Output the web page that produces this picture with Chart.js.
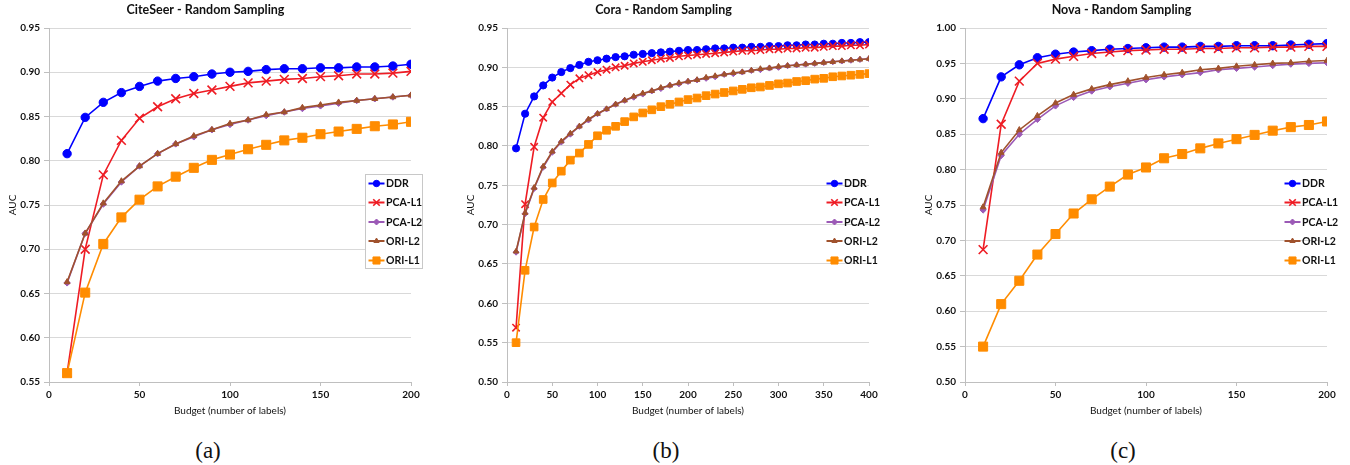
<!DOCTYPE html>
<html><head><meta charset="utf-8">
<script src="https://cdn.jsdelivr.net/npm/chart.js@4.4.1/dist/chart.umd.min.js"></script>
<style>
html,body{margin:0;padding:0;background:#fff;width:1350px;height:465px;overflow:hidden;}
.panel{position:absolute;top:0;width:424px;height:417px;}
.cap{position:absolute;top:436px;width:60px;text-align:center;font-family:"Liberation Serif","DejaVu Serif",serif;font-size:23px;line-height:30px;color:#111;}
</style></head><body>
<div class="panel" style="left:0px"><canvas id="cA"></canvas></div>
<div class="panel" style="left:458px"><canvas id="cB"></canvas></div>
<div class="panel" style="left:916px"><canvas id="cC"></canvas></div>
<div class="cap" style="left:178px">(a)</div>
<div class="cap" style="left:636px">(b)</div>
<div class="cap" style="left:1093px">(c)</div>
<script>
// ---- categories / ticks ----
const seriesNames = ['DDR', 'PCA-L1', 'PCA-L2', 'ORI-L2', 'ORI-L1'];
const budget200 = [10,20,30,40,50,60,70,80,90,100,110,120,130,140,150,160,170,180,190,200];
const budget400 = [10,20,30,40,50,60,70,80,90,100,110,120,130,140,150,160,170,180,190,200,
                   210,220,230,240,250,260,270,280,290,300,310,320,330,340,350,360,370,380,390,400];
const xTicks200 = [0,50,100,150,200];
const xTicks400 = [0,50,100,150,200,250,300,350,400];
const yTicksA = [0.55,0.60,0.65,0.70,0.75,0.80,0.85,0.90,0.95];
const yTicksB = [0.50,0.55,0.60,0.65,0.70,0.75,0.80,0.85,0.90,0.95];
const yTicksC = [0.50,0.55,0.60,0.65,0.70,0.75,0.80,0.85,0.90,0.95,1.00];

// ---- CiteSeer ----
const citeDDR   = [0.808,0.849,0.866,0.877,0.884,0.890,0.893,0.895,0.898,0.900,0.901,0.903,0.904,0.904,0.905,0.905,0.906,0.906,0.907,0.909];
const citePCAL1 = [0.560,0.700,0.784,0.823,0.848,0.861,0.870,0.876,0.880,0.884,0.888,0.890,0.892,0.893,0.895,0.896,0.898,0.898,0.899,0.901];
const citePCAL2 = [0.662,0.718,0.751,0.776,0.794,0.808,0.819,0.827,0.835,0.841,0.846,0.851,0.855,0.859,0.862,0.865,0.868,0.870,0.872,0.874];
const citeORIL2 = [0.663,0.718,0.752,0.777,0.794,0.808,0.819,0.828,0.835,0.842,0.846,0.852,0.855,0.860,0.863,0.866,0.868,0.870,0.872,0.874];
const citeORIL1 = [0.560,0.651,0.706,0.736,0.756,0.771,0.782,0.792,0.801,0.807,0.813,0.818,0.823,0.826,0.830,0.833,0.836,0.839,0.841,0.844];

// ---- Cora ----
const coraDDR   = [0.797,0.841,0.863,0.877,0.887,0.894,0.899,0.903,0.907,0.909,0.911,0.913,0.914,0.916,0.917,0.918,0.919,0.920,0.921,0.922,
                   0.922,0.923,0.924,0.924,0.925,0.925,0.926,0.926,0.927,0.927,0.928,0.928,0.929,0.929,0.930,0.930,0.931,0.931,0.932,0.932];
const coraPCAL1 = [0.569,0.726,0.799,0.836,0.856,0.867,0.878,0.886,0.890,0.894,0.897,0.900,0.902,0.905,0.907,0.909,0.911,0.912,0.914,0.915,
                   0.916,0.917,0.918,0.919,0.920,0.921,0.921,0.922,0.923,0.923,0.924,0.924,0.925,0.925,0.926,0.927,0.927,0.928,0.928,0.929];
const coraPCAL2 = [0.665,0.714,0.746,0.773,0.792,0.805,0.815,0.825,0.833,0.841,0.847,0.853,0.858,0.862,0.866,0.870,0.873,0.877,0.879,0.882,
                   0.884,0.886,0.888,0.891,0.892,0.894,0.896,0.897,0.899,0.900,0.902,0.903,0.904,0.905,0.906,0.907,0.908,0.909,0.910,0.911];
const coraORIL2 = [0.666,0.715,0.747,0.774,0.793,0.806,0.816,0.825,0.834,0.841,0.847,0.853,0.858,0.863,0.867,0.870,0.874,0.877,0.880,0.882,
                   0.884,0.887,0.889,0.891,0.893,0.894,0.896,0.898,0.899,0.901,0.902,0.903,0.904,0.905,0.906,0.907,0.908,0.909,0.910,0.911];
const coraORIL1 = [0.550,0.642,0.697,0.732,0.753,0.768,0.782,0.791,0.802,0.813,0.820,0.825,0.831,0.837,0.842,0.846,0.850,0.853,0.856,0.859,
                   0.861,0.864,0.866,0.868,0.870,0.872,0.874,0.875,0.877,0.879,0.880,0.882,0.883,0.885,0.886,0.888,0.889,0.890,0.891,0.892];

// ---- Nova ----
const novaDDR   = [0.872,0.931,0.948,0.958,0.963,0.966,0.968,0.970,0.971,0.972,0.973,0.973,0.974,0.974,0.975,0.975,0.975,0.976,0.977,0.978];
const novaPCAL1 = [0.687,0.864,0.925,0.950,0.956,0.960,0.964,0.966,0.968,0.969,0.970,0.970,0.971,0.971,0.972,0.972,0.973,0.973,0.974,0.974];
const novaPCAL2 = [0.743,0.820,0.850,0.871,0.890,0.902,0.911,0.917,0.922,0.927,0.931,0.934,0.937,0.941,0.943,0.945,0.947,0.949,0.950,0.951];
const novaORIL2 = [0.747,0.824,0.856,0.876,0.894,0.906,0.914,0.920,0.925,0.930,0.934,0.937,0.941,0.943,0.946,0.948,0.950,0.951,0.953,0.954];
const novaORIL1 = [0.550,0.610,0.643,0.680,0.709,0.738,0.758,0.776,0.793,0.803,0.816,0.822,0.830,0.837,0.843,0.849,0.855,0.860,0.863,0.868];

// ---- styles (kept apart from data) ----
const FONT = 'Lato, "Liberation Sans", sans-serif';
const styles = [
  {color:'#0000ff', point:'circle',   r:[4.2,3.6], lr:3.2, lw:1.6},
  {color:'#ee1c24', point:'crossRot', r:[6.2,5.2], lr:4.6, lw:1.6},
  {color:'#9b59b6', point:'rectRot',  r:[3.2,3.0], lr:3.0, lw:1.6},
  {color:'#a0522d', point:'triangle', r:[3.4,3.2], lr:3.0, lw:1.6},
  {color:'#ff8c00', point:'rect',     r:[6.4,5.4], lr:5.0, lw:1.6}
];

const legendPlugin = {
  id: 'inLegend',
  afterDraw(chart, args, opts) {
    const ctx = chart.ctx;
    ctx.save();
    if (opts.box) {
      ctx.fillStyle = '#ffffff';
      ctx.strokeStyle = '#c8c8c8';
      ctx.lineWidth = 1;
      ctx.fillRect(365.5, 174.5, 57, 94);
      ctx.strokeRect(365.5, 174.5, 57, 94);
    }
    const rows = [183.5, 202.5, 222, 241, 260.5];
    chart.data.datasets.forEach((ds, i) => {
      const st = styles[i];
      const y = rows[i], x0 = 368.5, x1 = 384.5, cx = (x0 + x1) / 2;
      ctx.strokeStyle = st.color; ctx.lineWidth = 2;
      ctx.beginPath(); ctx.moveTo(x0, y); ctx.lineTo(x1, y); ctx.stroke();
      ctx.fillStyle = st.color; ctx.strokeStyle = st.color; ctx.lineWidth = st.point === 'crossRot' ? 1.6 : 1;
      Chart.helpers.drawPoint(ctx, {pointStyle: st.point, radius: st.lr, rotation: 0, borderWidth: 1}, cx, y);
      ctx.fillStyle = '#111';
      ctx.font = 'bold 10.5px ' + FONT;
      ctx.textBaseline = 'middle'; ctx.textAlign = 'left';
      ctx.fillText(ds.label, 386, y + 0.5);
    });
    ctx.restore();
  }
};

function makeChart(id, title, xs, seriesData, xTicks, yTicks, small, box) {
  const datasets = seriesData.map((vals, i) => {
    const st = styles[i];
    return {
      label: seriesNames[i],
      data: vals.map((v, k) => ({x: xs[k], y: v})),
      borderColor: st.color, backgroundColor: st.color,
      pointBackgroundColor: st.color, pointBorderColor: st.color,
      pointStyle: st.point, pointRadius: st.r[small ? 1 : 0],
      pointBorderWidth: st.point === 'crossRot' ? 1.6 : 1,
      borderWidth: st.lw, tension: 0, order: 5 - i
    };
  });
  const yMin = yTicks[0], yMax = yTicks[yTicks.length - 1];
  return new Chart(document.getElementById(id), {
    type: 'line',
    data: {datasets},
    plugins: [legendPlugin],
    options: {
      responsive: true, maintainAspectRatio: false, animation: false,
      layout: {padding: {left: 0, right: 13, top: 0, bottom: 0}},
      plugins: {
        legend: {display: false}, tooltip: {enabled: false},
        title: {display: true, text: title, color: '#111',
                font: {family: FONT, size: 12.5, weight: 'bold'}, padding: {top: 2, bottom: 11}},
        inLegend: {box}
      },
      scales: {
        x: {
          type: 'linear', min: xTicks[0], max: xTicks[xTicks.length - 1],
          afterBuildTicks: s => { s.ticks = xTicks.map(v => ({value: v})); },
          afterFit: s => { s.height = 35; },
          grid: {drawOnChartArea: false, color: '#bfbfbf', tickColor: '#bfbfbf', tickLength: 4},
          border: {color: '#bfbfbf'},
          ticks: {color: '#111', font: {family: FONT, size: 10, weight: 'bold'}, padding: 3, maxRotation: 0},
          title: {display: true, text: 'Budget (number of labels)', color: '#111',
                  font: {family: FONT, size: 10}, padding: {top: 0, bottom: 0}}
        },
        y: {
          min: yMin, max: yMax,
          afterBuildTicks: s => { s.ticks = yTicks.map(v => ({value: v})); },
          afterFit: s => { s.width = 49; },
          grid: {color: '#d9d9d9', tickColor: '#bfbfbf', tickLength: 5},
          border: {color: '#bfbfbf'},
          ticks: {color: '#111', font: {family: FONT, size: 10, weight: 'bold'}, padding: 4,
                  callback: v => Number(v).toFixed(2)},
          title: {display: true, text: 'AUC', color: '#111',
                  font: {family: FONT, size: 10}, padding: {top: 7, bottom: 0}}
        }
      }
    }
  });
}

makeChart('cA', 'CiteSeer - Random Sampling', budget200,
  [citeDDR, citePCAL1, citePCAL2, citeORIL2, citeORIL1], xTicks200, yTicksA, false, true);
makeChart('cB', 'Cora - Random Sampling', budget400,
  [coraDDR, coraPCAL1, coraPCAL2, coraORIL2, coraORIL1], xTicks400, yTicksB, true, false);
makeChart('cC', 'Nova - Random Sampling', budget200,
  [novaDDR, novaPCAL1, novaPCAL2, novaORIL2, novaORIL1], xTicks200, yTicksC, false, false);
</script>
</body></html>
